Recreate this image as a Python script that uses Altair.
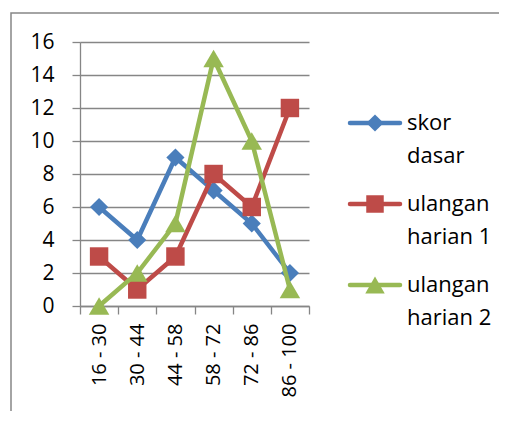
import altair as alt
import pandas as pd

categories = ["16 - 30", "30 - 44", "44 - 58", "58 - 72", "72 - 86", "86 - 100"]
skor_dasar = [6, 4, 9, 7, 5, 2]
ulangan_harian_1 = [3, 1, 3, 8, 6, 12]
ulangan_harian_2 = [0, 2, 5, 15, 10, 1]
series_names = ["skor dasar", "ulangan harian 1", "ulangan harian 2"]
legend_labels = [["skor", "dasar"], ["ulangan", "harian 1"], ["ulangan", "harian 2"]]
y_ticks = [0, 2, 4, 6, 8, 10, 12, 14, 16]

colors = ["#4A7EBB", "#BE4B48", "#98B954"]
shapes = ["diamond", "square", "triangle-up"]
sizes = [330, 340, 420]

FONT = "Open Sans"
W, H = 229, 264
GRAY = "#868686"

series_values = [skor_dasar, ulangan_harian_1, ulangan_harian_2]

x_enc = alt.X("cat:N", sort=categories,
              scale=alt.Scale(domain=categories, type="band", paddingInner=0, paddingOuter=0),
              axis=alt.Axis(title=None, labelAngle=-90, labelAlign="right", labelBaseline="middle",
                            tickBand="extent", tickSize=8, tickColor=GRAY, tickWidth=1.3,
                            domainColor=GRAY, domainWidth=1.3, labelPadding=9,
                            labelFont=FONT, labelFontSize=20, labelColor="#000000", grid=False))
y_enc = alt.Y("val:Q", scale=alt.Scale(domain=[0, 16], nice=False),
              axis=alt.Axis(title=None, values=y_ticks, grid=True, gridColor=GRAY, gridWidth=1.3,
                            tickSize=8, tickColor=GRAY, tickWidth=1.3, domainColor=GRAY, domainWidth=1.3,
                            labelPadding=18, labelFont=FONT, labelFontSize=21, labelColor="#000000"))

layers = []
one = pd.DataFrame({"k": [0]})
# outer chart frame (right and bottom edges fall outside the page)
layers.append(alt.Chart(one).mark_rect(fill=None, stroke=GRAY, strokeWidth=1.5).encode(
    x=alt.value(-69), x2=alt.value(460), y=alt.value(-29), y2=alt.value(420)))

for i, name in enumerate(series_names):
    df = pd.DataFrame({"cat": categories, "val": series_values[i], "series": name})
    base = alt.Chart(df).encode(x=x_enc, y=y_enc)
    layers.append(base.mark_line(color=colors[i], strokeWidth=4.5))
    layers.append(base.mark_point(shape=shapes[i], size=sizes[i], filled=True, opacity=1,
                                  color=colors[i]))

legend_y = [81, 162, 243]
for i, name in enumerate(series_names):
    ly = legend_y[i]
    layers.append(alt.Chart(one).mark_rule(color=colors[i], strokeWidth=4.5, strokeCap="round").encode(
        x=alt.value(270), x2=alt.value(320), y=alt.value(ly), y2=alt.value(ly)))
    layers.append(alt.Chart(one).mark_point(shape=shapes[i], size=sizes[i] * 0.9, filled=True,
                                            opacity=1, color=colors[i]).encode(
        x=alt.value(295), y=alt.value(ly)))
    layers.append(alt.Chart(one).mark_text(align="left", baseline="middle", font=FONT, fontSize=22,
                                           lineHeight=33, color="#000000").encode(
        x=alt.value(327), y=alt.value(ly), text=alt.value(legend_labels[i])))

chart = alt.layer(*layers).properties(
    width=W, height=H,
    padding={"left": 72, "top": 34, "right": 190, "bottom": 105},
    autosize="none",
).configure_view(stroke=None)

chart.save("out.html", embed_options={"renderer": "svg", "actions": False})
